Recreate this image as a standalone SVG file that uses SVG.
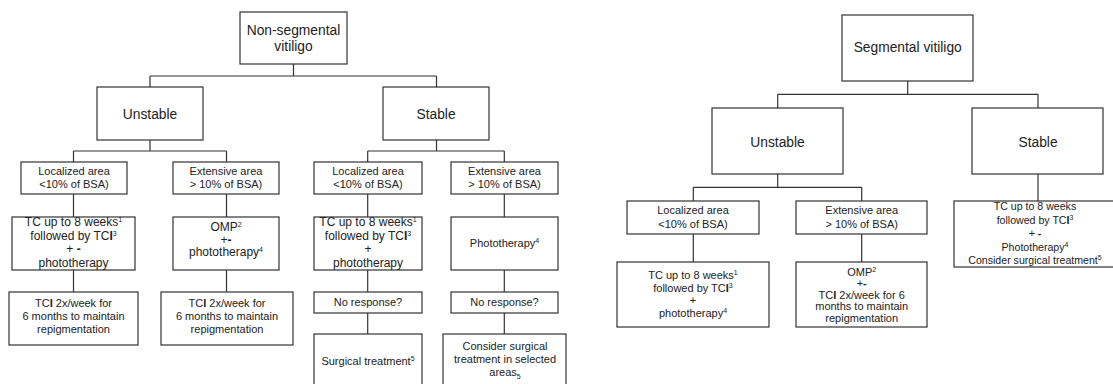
<svg xmlns="http://www.w3.org/2000/svg" width="1113" height="384" viewBox="0 0 1113 384">
<style>
rect.box{fill:#fff;stroke:#333;stroke-width:1.2}
.conn path{fill:none;stroke:#333;stroke-width:1.2}
text{font-family:"Liberation Sans",Arial,sans-serif;fill:#222;text-anchor:middle}
.t14{font-size:13.8px}
.t12{font-size:12px}
.t11{font-size:11px}
.t105{font-size:10.6px}
.sup{font-size:7px}
.b{font-weight:bold}
</style>
<rect width="1113" height="384" fill="#fff"/>
<g class="conn">
<path d="M293.5 64V76M150 76H436.5M150 76V87M436.5 76V87"/>
<path d="M150 140V151M73.5 151H226.5M73.5 151V162M226.5 151V162"/>
<path d="M436.5 140V151M367.7 151H504.3M367.7 151V162M504.3 151V162"/>
<path d="M73.5 194V217M73.5 270V292M226.5 194V217M226.5 270V292"/>
<path d="M367.7 194V217M367.7 270V292M367.7 313V334"/>
<path d="M504.3 194V217M504.3 270V292M504.3 313V334"/>
<path d="M907.7 81V94.3M777.7 94.3H1038M777.7 94.3V108M1038 94.3V108"/>
<path d="M777.7 174V187.3M693.3 187.3H861.7M693.3 187.3V201M861.7 187.3V201"/>
<path d="M693.3 234V262M861.7 234V262M1038 174V201"/>
</g>
<g id="nonseg"><rect class="box" x="240" y="12" width="107" height="52"/><text class="t14" x="293.5" y="35">Non-segmental</text><text class="t14" x="293.5" y="50.5">vitiligo</text></g>
<g id="ns-unstable"><rect class="box" x="97" y="87" width="106" height="53"/><text class="t14" x="150" y="119">Unstable</text></g>
<g id="ns-stable"><rect class="box" x="383" y="87" width="106" height="53"/><text class="t14" x="436" y="119">Stable</text></g>
<g id="ns-u-local"><rect class="box" x="21" y="162" width="106" height="32"/><text class="t11" x="74" y="175">Localized area</text><text class="t11" x="74" y="188">&lt;10% of BSA)</text></g>
<g id="ns-u-ext"><rect class="box" x="173" y="162" width="106" height="32"/><text class="t11" x="226" y="175">Extensive area</text><text class="t11" x="226" y="188">&gt; 10% of BSA)</text></g>
<g id="ns-s-local"><rect class="box" x="314" y="162" width="108" height="32"/><text class="t11" x="368" y="175">Localized area</text><text class="t11" x="368" y="188">&lt;10% of BSA)</text></g>
<g id="ns-s-ext"><rect class="box" x="451" y="162" width="107" height="32"/><text class="t11" x="504.5" y="175">Extensive area</text><text class="t11" x="504.5" y="188">&gt; 10% of BSA)</text></g>
<g id="ns-u-local-tx"><rect class="box" x="12" y="217" width="123" height="53"/>
<text class="t12" x="73.5" y="225.5">TC up to 8 weeks<tspan class="sup" dy="-4">1</tspan></text>
<text class="t12" x="73.5" y="239.5">followed by TC<tspan class="b">I</tspan><tspan class="sup" dy="-4">3</tspan></text>
<text class="t12" x="73.5" y="253">+ <tspan class="b">-</tspan></text>
<text class="t12" x="73.5" y="266.5">phototherapy</text></g>
<g id="ns-u-ext-tx"><rect class="box" x="173" y="217" width="106" height="53"/>
<text class="t12" x="226" y="230.5">OMP<tspan class="sup" dy="-4">2</tspan></text>
<text class="t12" x="226" y="243.5">+<tspan class="b">-</tspan></text>
<text class="t12" x="226" y="255.7">phototherapy<tspan class="sup" dy="-4">4</tspan></text></g>
<g id="ns-u-local-maint"><rect class="box" x="9" y="292" width="129" height="53"/>
<text class="t11" x="73.5" y="307.3">TC<tspan class="b">I</tspan> 2x/week for</text>
<text class="t11" x="73.5" y="320">6 months to maintain</text>
<text class="t11" x="73.5" y="332.5">repigmentation</text></g>
<g id="ns-u-ext-maint"><rect class="box" x="161" y="292" width="132" height="53"/>
<text class="t11" x="227" y="307.3">TC<tspan class="b">I</tspan> 2x/week for</text>
<text class="t11" x="227" y="320">6 months to maintain</text>
<text class="t11" x="227" y="332.5">repigmentation</text></g>
<g id="ns-s-local-tx"><rect class="box" x="314" y="217" width="108" height="53"/>
<text class="t12" x="368" y="225.5">TC up to 8 weeks<tspan class="sup" dy="-4">1</tspan></text>
<text class="t12" x="368" y="239.5">followed by TC<tspan class="b">I</tspan><tspan class="sup" dy="-4">3</tspan></text>
<text class="t12" x="368" y="253">+</text>
<text class="t12" x="368" y="266.5">phototherapy</text></g>
<g id="ns-s-ext-tx"><rect class="box" x="451" y="217" width="107" height="53"/>
<text class="t11" x="504.5" y="247">Phototherapy<tspan class="sup" dy="-4">4</tspan></text></g>
<g id="ns-s-local-nr"><rect class="box" x="314" y="292" width="108" height="21"/><text class="t11" x="368" y="306">No response?</text></g>
<g id="ns-s-ext-nr"><rect class="box" x="451" y="292" width="107" height="21"/><text class="t11" x="504.5" y="306">No response?</text></g>
<g id="ns-s-local-surg"><rect class="box" x="314" y="334" width="108" height="60"/><text class="t11" x="368" y="365">Surgical treatment<tspan class="sup" dy="-4">5</tspan></text></g>
<g id="ns-s-ext-surg"><rect class="box" x="443" y="334" width="123" height="60"/>
<text class="t11" x="505" y="350">Consider surgical</text>
<text class="t11" x="505" y="363.3">treatment in selected</text>
<text class="t11" x="505" y="376">areas<tspan class="sup" dy="3">5</tspan></text></g>
<g id="seg"><rect class="box" x="842" y="15" width="131" height="66"/><text class="t14" x="907.7" y="52">Segmental vitiligo</text></g>
<g id="seg-unstable"><rect class="box" x="712" y="108" width="131" height="66"/><text class="t14" x="777.5" y="146.7">Unstable</text></g>
<g id="seg-stable"><rect class="box" x="972" y="108" width="131" height="66"/><text class="t14" x="1038" y="146.7">Stable</text></g>
<g id="seg-u-local"><rect class="box" x="627" y="201" width="132" height="33"/><text class="t11" x="693" y="214.3">Localized area</text><text class="t11" x="693" y="227.7">&lt;10% of BSA)</text></g>
<g id="seg-u-ext"><rect class="box" x="796" y="201" width="131" height="33"/><text class="t11" x="861.7" y="214.3">Extensive area</text><text class="t11" x="861.7" y="227.7">&gt; 10% of BSA)</text></g>
<g id="seg-u-local-tx"><rect class="box" x="617" y="262" width="152" height="65"/>
<text class="t11" x="693" y="279">TC up to 8 weeks<tspan class="sup" dy="-4">1</tspan></text>
<text class="t11" x="693" y="292">followed by TC<tspan class="b">I</tspan><tspan class="sup" dy="-4">3</tspan></text>
<text class="t11" x="693" y="304.3">+</text>
<text class="t11" x="693" y="316.7">phototherapy<tspan class="sup" dy="-4">4</tspan></text></g>
<g id="seg-u-ext-tx"><rect class="box" x="796" y="262" width="131" height="65"/>
<text class="t11" x="861.7" y="275.7">OMP<tspan class="sup" dy="-4">2</tspan></text>
<text class="t11" x="861.7" y="287">+<tspan class="b">-</tspan></text>
<text class="t11" x="861.7" y="298.5">TC<tspan class="b">I</tspan> 2x/week for 6</text>
<text class="t11" x="861.7" y="310.2">months to maintain</text>
<text class="t11" x="861.7" y="321.8">repigmentation</text></g>
<g id="seg-s-tx"><rect class="box" x="954" y="201" width="164" height="66"/>
<text class="t105" x="1035" y="210">TC up to 8 weeks</text>
<text class="t105" x="1035" y="223.5">followed by TC<tspan class="b">I</tspan><tspan class="sup" dy="-4">3</tspan></text>
<text class="t105" x="1035" y="237">+ <tspan class="b">-</tspan></text>
<text class="t105" x="1035" y="250.5">Phototherapy<tspan class="sup" dy="-4">4</tspan></text>
<text class="t105" x="1035" y="264">Consider surgical treatment<tspan class="sup" dy="-4">5</tspan></text></g>
</svg>
